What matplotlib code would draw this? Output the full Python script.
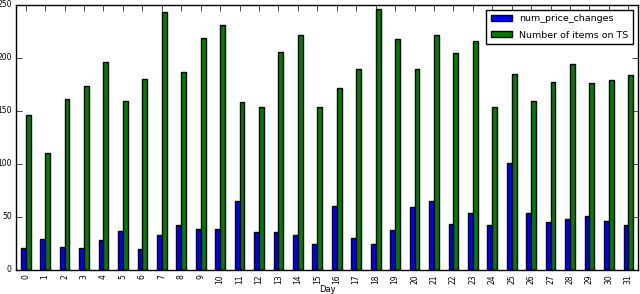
import numpy as np
import matplotlib
matplotlib.use("Agg")
import matplotlib.pyplot as plt

days = list(range(32))
num_price_changes = [21, 29, 22, 21, 28, 37, 20, 33, 42, 39,
                     39, 65, 36, 36, 33, 24, 60, 30, 24, 38,
                     59, 65, 43, 54, 42, 101, 54, 45, 48, 51,
                     46, 42]
num_items_ts = [146, 110, 161, 174, 196, 159, 180, 243, 187, 219,
                231, 158, 154, 206, 222, 154, 172, 190, 246, 218,
                190, 222, 205, 216, 154, 185, 159, 177, 194, 176,
                179, 184]
labels = ["num_price_changes", "Number of items on TS"]

plt.style.use("classic")
fig = plt.figure(figsize=(6.4, 2.94), dpi=100)
ax = fig.add_axes([0.025, 0.082, 0.972, 0.901])

ind = np.arange(len(days))
width = 0.25
ax.bar(ind - width / 2, num_price_changes, width, color="b",
       edgecolor="k", linewidth=1, label=labels[0])
ax.bar(ind + width / 2, num_items_ts, width, color="g",
       edgecolor="k", linewidth=1, label=labels[1])

ax.set_xlim(-0.5, len(days) - 0.5)
ax.set_ylim(0, 250)
ax.set_yticks(np.arange(0, 251, 50))
ax.set_xticks(ind)
ax.set_xticklabels([str(d) for d in days], rotation=90)
ax.tick_params(labelsize=5.5, pad=3)
ax.set_xlabel("Day", fontsize=6, labelpad=1)
ax.legend(loc="upper right", fontsize=6.8, handlelength=2.2,
          handleheight=0.6, borderpad=0.5, labelspacing=0.75,
          borderaxespad=0.5)

fig.savefig("out.png", dpi=100)
